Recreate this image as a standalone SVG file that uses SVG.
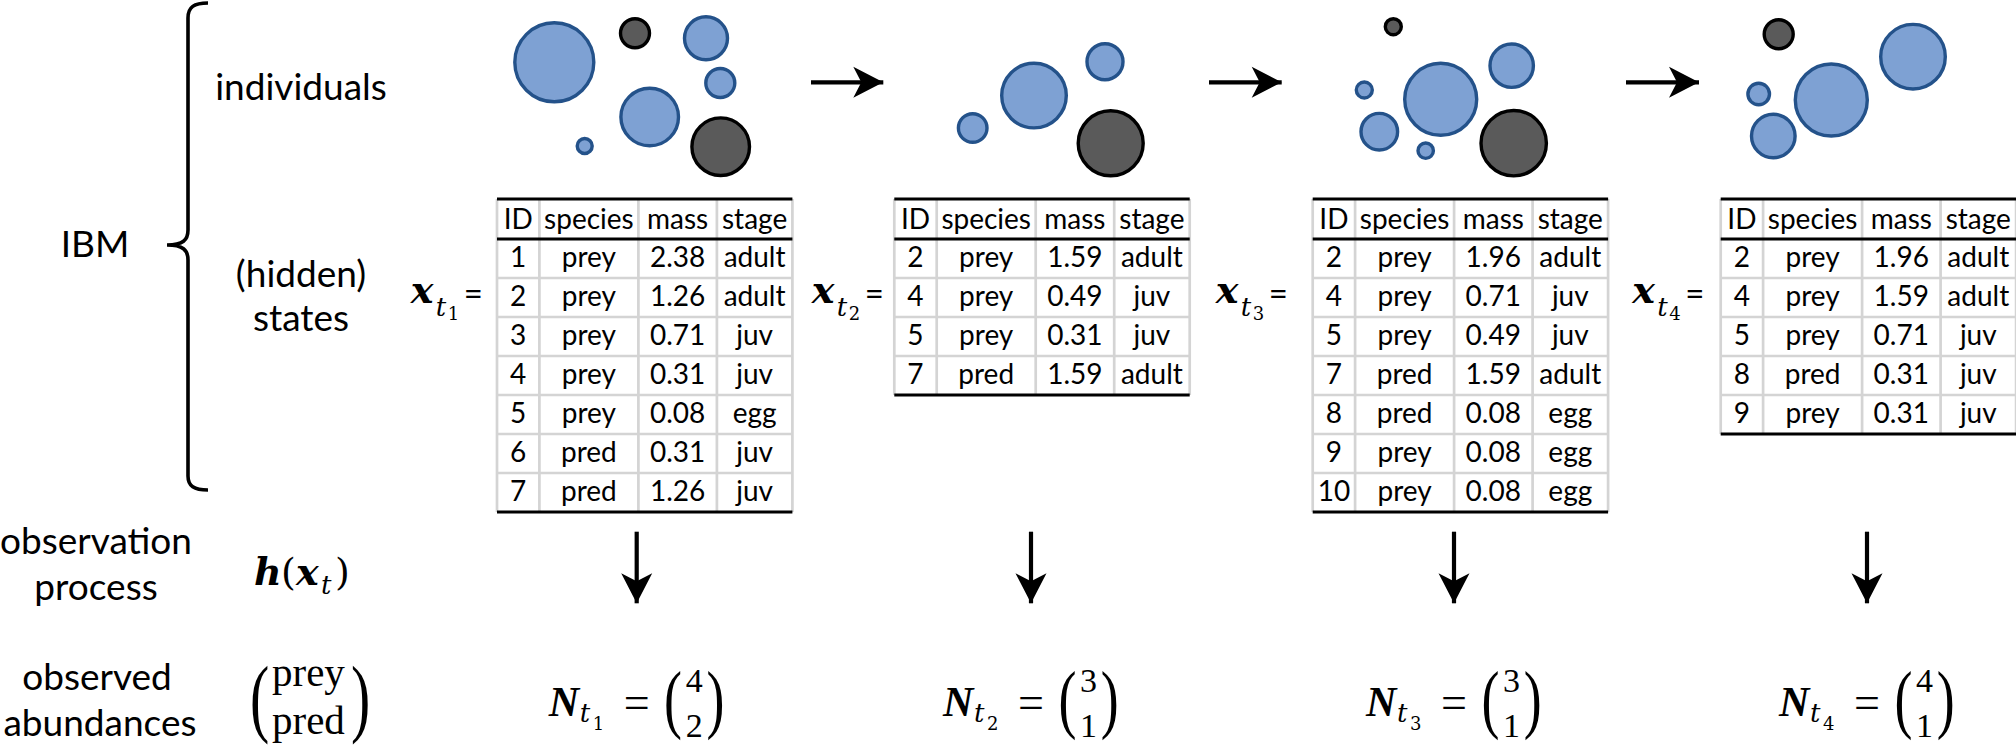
<svg xmlns="http://www.w3.org/2000/svg" width="2016" height="745" viewBox="0 0 2016 745">
<style>
  .lbl{font-family:Lato,"Liberation Sans",sans-serif;font-size:37px;fill:#000;text-anchor:middle}
  .c{font-family:Lato,"Liberation Sans",sans-serif;font-size:28px;fill:#000;text-anchor:middle}
  .g{stroke:#d4d4d4;stroke-width:2.7;fill:none}
  .k{stroke:#000;stroke-width:3.2;fill:none}
  .b{fill:#7ea1d3;stroke:#24528a;stroke-width:3.4}
  .d{fill:#5a5a5a;stroke:#000;stroke-width:3.4}
  .mx{font-family:"DejaVu Serif",serif;font-weight:bold;font-style:italic;font-size:38px;fill:#000}
  .mt{font-family:"DejaVu Serif",serif;font-style:italic;font-size:26px;fill:#000}
  .ms{font-family:"DejaVu Serif",serif;font-size:18px;fill:#000}
  .mp{font-family:"DejaVu Serif",serif;font-size:38px;fill:#000}
  .mn{font-family:"Liberation Serif",serif;font-weight:bold;font-style:italic;font-size:42px;fill:#000}
  .mnt{font-family:"DejaVu Serif",serif;font-style:italic;font-size:26px;fill:#000}
  .mns{font-family:"DejaVu Serif",serif;font-size:18px;fill:#000}
  .mr{font-family:"Liberation Serif",serif;font-size:41px;fill:#000}
  .meq{font-family:"Liberation Serif",serif;font-size:46px;fill:#000;text-anchor:middle}
  .eqs{font-family:Lato,"Liberation Sans",sans-serif;font-size:33px;fill:#000}
  .num{font-family:"Liberation Serif",serif;font-size:34px;fill:#000;text-anchor:middle}
  .par{font-family:"Liberation Serif",serif;font-size:77px;fill:#000}
  .conn{stroke:#000;stroke-width:4.2;fill:none}
</style>
<defs>
  <marker id="ah" markerUnits="userSpaceOnUse" markerWidth="32" markerHeight="34" viewBox="-31 -16 32 32" refX="0" refY="0" orient="auto">
    <path d="M0,0 L-30,-15.5 L-22,0 L-30,15.5 Z" fill="#000"/>
  </marker>
</defs>

<!-- left labels -->
<g id="brace"><path d="M208,3 C194,3 188,7 188,18 L188,230 C188,240 183,245 167,245 C183,245 188,250 188,260 L188,476 C188,486 194,490 208,490" fill="none" stroke="#000" stroke-width="3.6"/></g>
<g id="label-ibm"><text class="lbl" x="95" y="257">IBM</text></g>
<g id="label-individuals"><text class="lbl" x="301" y="100">individuals</text></g>
<g id="label-states"><text class="lbl" x="301" y="287">(hidden)</text><text class="lbl" x="301" y="331">states</text></g>
<g id="label-observation"><text class="lbl" x="96" y="554">observation</text><text class="lbl" x="96" y="600">process</text></g>
<g id="label-observed"><text class="lbl" x="97" y="690">observed</text><text class="lbl" x="100" y="736">abundances</text></g>
<g id="label-h">
  <text class="mx" x="254" y="585">h</text>
  <text class="mp" x="281" y="585">(</text>
  <text class="mx" x="296" y="585">x</text>
  <text class="mt" x="321" y="594">t</text>
  <text class="mp" x="335" y="585">)</text>
</g>
<g id="label-preypred">
  <text class="par" transform="translate(250,726) scale(0.75,1.12)">(</text>
  <text class="mr" x="272" y="686">prey</text>
  <text class="mr" x="272" y="734">pred</text>
  <text class="par" transform="translate(351,726) scale(0.75,1.12)">)</text>
</g>

<!-- individuals -->
<g id="ind1">
  <circle class="b" cx="554.3" cy="62.3" r="39.5"/>
  <circle class="d" cx="635" cy="33.3" r="14.5"/>
  <circle class="b" cx="706" cy="38.3" r="21.5"/>
  <circle class="b" cx="720.3" cy="83" r="14.5"/>
  <circle class="b" cx="649.7" cy="117" r="28.8"/>
  <circle class="b" cx="584.7" cy="146" r="7.5"/>
  <circle class="d" cx="720.7" cy="146.7" r="28.8"/>
</g>
<g id="ind2">
  <circle class="b" cx="972.7" cy="128" r="14.3"/>
  <circle class="b" cx="1034" cy="95.6" r="32.3"/>
  <circle class="b" cx="1105" cy="61.7" r="18"/>
  <circle class="d" cx="1110.7" cy="143.3" r="32.5"/>
</g>
<g id="ind3">
  <circle class="d" cx="1393.3" cy="26.7" r="8"/>
  <circle class="b" cx="1364.3" cy="90" r="8"/>
  <circle class="b" cx="1440.7" cy="99.3" r="36"/>
  <circle class="b" cx="1511.7" cy="65.7" r="21.7"/>
  <circle class="b" cx="1379.3" cy="131.7" r="18.3"/>
  <circle class="b" cx="1425.7" cy="150.7" r="7.7"/>
  <circle class="d" cx="1513.7" cy="143.2" r="32.7"/>
</g>
<g id="ind4">
  <circle class="d" cx="1778.7" cy="34.3" r="14.5"/>
  <circle class="b" cx="1758.7" cy="94" r="10.8"/>
  <circle class="b" cx="1773.3" cy="136" r="21.8"/>
  <circle class="b" cx="1831.3" cy="100" r="36"/>
  <circle class="b" cx="1913" cy="56.7" r="32.3"/>
</g>

<!-- state labels -->
<g id="xt1" transform="translate(410.7,0)">
  <text class="mx" x="0" y="303">x</text><text class="mt" x="25" y="316">t</text><text class="ms" x="37" y="320">1</text><text class="eqs" x="53" y="305">=</text>
</g>
<g id="xt2" transform="translate(811.7,0)">
  <text class="mx" x="0" y="303">x</text><text class="mt" x="25" y="316">t</text><text class="ms" x="37" y="320">2</text><text class="eqs" x="53" y="305">=</text>
</g>
<g id="xt3" transform="translate(1215.7,0)">
  <text class="mx" x="0" y="303">x</text><text class="mt" x="25" y="316">t</text><text class="ms" x="37" y="320">3</text><text class="eqs" x="53" y="305">=</text>
</g>
<g id="xt4" transform="translate(1632.3,0)">
  <text class="mx" x="0" y="303">x</text><text class="mt" x="25" y="316">t</text><text class="ms" x="37" y="320">4</text><text class="eqs" x="53" y="305">=</text>
</g>

<!-- tables -->
<g id="table1" transform="translate(497,199)">
  <path class="g" d="M0,0V313M42.4,0V313M141.4,0V313M219.9,0V313M295.4,0V313M0,79H295.4M0,118H295.4M0,157H295.4M0,196H295.4M0,235H295.4M0,274H295.4"/>
  <path class="k" d="M0,0H295.4M0,40H295.4M0,313H295.4"/>
  <text class="c" x="21.2" y="29.5">ID</text><text class="c" x="91.9" y="29.5">species</text><text class="c" x="180.6" y="29.5">mass</text><text class="c" x="257.6" y="29.5">stage</text>
  <text class="c" x="21.2" y="68">1</text><text class="c" x="91.9" y="68">prey</text><text class="c" x="180.6" y="68">2.38</text><text class="c" x="257.6" y="68">adult</text>
  <text class="c" x="21.2" y="107">2</text><text class="c" x="91.9" y="107">prey</text><text class="c" x="180.6" y="107">1.26</text><text class="c" x="257.6" y="107">adult</text>
  <text class="c" x="21.2" y="146">3</text><text class="c" x="91.9" y="146">prey</text><text class="c" x="180.6" y="146">0.71</text><text class="c" x="257.6" y="146">juv</text>
  <text class="c" x="21.2" y="185">4</text><text class="c" x="91.9" y="185">prey</text><text class="c" x="180.6" y="185">0.31</text><text class="c" x="257.6" y="185">juv</text>
  <text class="c" x="21.2" y="224">5</text><text class="c" x="91.9" y="224">prey</text><text class="c" x="180.6" y="224">0.08</text><text class="c" x="257.6" y="224">egg</text>
  <text class="c" x="21.2" y="263">6</text><text class="c" x="91.9" y="263">pred</text><text class="c" x="180.6" y="263">0.31</text><text class="c" x="257.6" y="263">juv</text>
  <text class="c" x="21.2" y="302">7</text><text class="c" x="91.9" y="302">pred</text><text class="c" x="180.6" y="302">1.26</text><text class="c" x="257.6" y="302">juv</text>
</g>
<g id="table2" transform="translate(894.3,199)">
  <path class="g" d="M0,0V196M42.4,0V196M141.4,0V196M219.9,0V196M295.4,0V196M0,79H295.4M0,118H295.4M0,157H295.4"/>
  <path class="k" d="M0,0H295.4M0,40H295.4M0,196H295.4"/>
  <text class="c" x="21.2" y="29.5">ID</text><text class="c" x="91.9" y="29.5">species</text><text class="c" x="180.6" y="29.5">mass</text><text class="c" x="257.6" y="29.5">stage</text>
  <text class="c" x="21.2" y="68">2</text><text class="c" x="91.9" y="68">prey</text><text class="c" x="180.6" y="68">1.59</text><text class="c" x="257.6" y="68">adult</text>
  <text class="c" x="21.2" y="107">4</text><text class="c" x="91.9" y="107">prey</text><text class="c" x="180.6" y="107">0.49</text><text class="c" x="257.6" y="107">juv</text>
  <text class="c" x="21.2" y="146">5</text><text class="c" x="91.9" y="146">prey</text><text class="c" x="180.6" y="146">0.31</text><text class="c" x="257.6" y="146">juv</text>
  <text class="c" x="21.2" y="185">7</text><text class="c" x="91.9" y="185">pred</text><text class="c" x="180.6" y="185">1.59</text><text class="c" x="257.6" y="185">adult</text>
</g>
<g id="table3" transform="translate(1312.7,199)">
  <path class="g" d="M0,0V313M42.4,0V313M141.4,0V313M219.9,0V313M295.4,0V313M0,79H295.4M0,118H295.4M0,157H295.4M0,196H295.4M0,235H295.4M0,274H295.4"/>
  <path class="k" d="M0,0H295.4M0,40H295.4M0,313H295.4"/>
  <text class="c" x="21.2" y="29.5">ID</text><text class="c" x="91.9" y="29.5">species</text><text class="c" x="180.6" y="29.5">mass</text><text class="c" x="257.6" y="29.5">stage</text>
  <text class="c" x="21.2" y="68">2</text><text class="c" x="91.9" y="68">prey</text><text class="c" x="180.6" y="68">1.96</text><text class="c" x="257.6" y="68">adult</text>
  <text class="c" x="21.2" y="107">4</text><text class="c" x="91.9" y="107">prey</text><text class="c" x="180.6" y="107">0.71</text><text class="c" x="257.6" y="107">juv</text>
  <text class="c" x="21.2" y="146">5</text><text class="c" x="91.9" y="146">prey</text><text class="c" x="180.6" y="146">0.49</text><text class="c" x="257.6" y="146">juv</text>
  <text class="c" x="21.2" y="185">7</text><text class="c" x="91.9" y="185">pred</text><text class="c" x="180.6" y="185">1.59</text><text class="c" x="257.6" y="185">adult</text>
  <text class="c" x="21.2" y="224">8</text><text class="c" x="91.9" y="224">pred</text><text class="c" x="180.6" y="224">0.08</text><text class="c" x="257.6" y="224">egg</text>
  <text class="c" x="21.2" y="263">9</text><text class="c" x="91.9" y="263">prey</text><text class="c" x="180.6" y="263">0.08</text><text class="c" x="257.6" y="263">egg</text>
  <text class="c" x="21.2" y="302">10</text><text class="c" x="91.9" y="302">prey</text><text class="c" x="180.6" y="302">0.08</text><text class="c" x="257.6" y="302">egg</text>
</g>
<g id="table4" transform="translate(1720.7,199)">
  <path class="g" d="M0,0V235M42.4,0V235M141.4,0V235M219.9,0V235M295.4,0V235M0,79H295.4M0,118H295.4M0,157H295.4M0,196H295.4"/>
  <path class="k" d="M0,0H295.4M0,40H295.4M0,235H295.4"/>
  <text class="c" x="21.2" y="29.5">ID</text><text class="c" x="91.9" y="29.5">species</text><text class="c" x="180.6" y="29.5">mass</text><text class="c" x="257.6" y="29.5">stage</text>
  <text class="c" x="21.2" y="68">2</text><text class="c" x="91.9" y="68">prey</text><text class="c" x="180.6" y="68">1.96</text><text class="c" x="257.6" y="68">adult</text>
  <text class="c" x="21.2" y="107">4</text><text class="c" x="91.9" y="107">prey</text><text class="c" x="180.6" y="107">1.59</text><text class="c" x="257.6" y="107">adult</text>
  <text class="c" x="21.2" y="146">5</text><text class="c" x="91.9" y="146">prey</text><text class="c" x="180.6" y="146">0.71</text><text class="c" x="257.6" y="146">juv</text>
  <text class="c" x="21.2" y="185">8</text><text class="c" x="91.9" y="185">pred</text><text class="c" x="180.6" y="185">0.31</text><text class="c" x="257.6" y="185">juv</text>
  <text class="c" x="21.2" y="224">9</text><text class="c" x="91.9" y="224">prey</text><text class="c" x="180.6" y="224">0.31</text><text class="c" x="257.6" y="224">juv</text>
</g>

<!-- observed abundances -->
<g id="N1" transform="translate(636.7,0)">
  <text class="mn" x="-88" y="716">N</text><text class="mnt" x="-57" y="722">t</text><text class="mns" x="-44" y="730">1</text>
  <text class="meq" x="0" y="718">=</text>
  <text class="par" transform="translate(27.4,724) scale(0.7,1)">(</text>
  <text class="num" x="57.6" y="692">4</text><text class="num" x="57.6" y="737">2</text>
  <text class="par" transform="translate(69.7,724) scale(0.7,1)">)</text>
</g>
<g id="N2" transform="translate(1031,0)">
  <text class="mn" x="-88" y="716">N</text><text class="mnt" x="-57" y="722">t</text><text class="mns" x="-44" y="730">2</text>
  <text class="meq" x="0" y="718">=</text>
  <text class="par" transform="translate(27.4,724) scale(0.7,1)">(</text>
  <text class="num" x="57.6" y="692">3</text><text class="num" x="57.6" y="737">1</text>
  <text class="par" transform="translate(69.7,724) scale(0.7,1)">)</text>
</g>
<g id="N3" transform="translate(1454,0)">
  <text class="mn" x="-88" y="716">N</text><text class="mnt" x="-57" y="722">t</text><text class="mns" x="-44" y="730">3</text>
  <text class="meq" x="0" y="718">=</text>
  <text class="par" transform="translate(27.4,724) scale(0.7,1)">(</text>
  <text class="num" x="57.6" y="692">3</text><text class="num" x="57.6" y="737">1</text>
  <text class="par" transform="translate(69.7,724) scale(0.7,1)">)</text>
</g>
<g id="N4" transform="translate(1867,0)">
  <text class="mn" x="-88" y="716">N</text><text class="mnt" x="-57" y="722">t</text><text class="mns" x="-44" y="730">4</text>
  <text class="meq" x="0" y="718">=</text>
  <text class="par" transform="translate(27.4,724) scale(0.7,1)">(</text>
  <text class="num" x="57.6" y="692">4</text><text class="num" x="57.6" y="737">1</text>
  <text class="par" transform="translate(69.7,724) scale(0.7,1)">)</text>
</g>

<!-- connectors -->
<g id="connectors">
  <line class="conn" x1="811" y1="82.3" x2="883.3" y2="82.3" marker-end="url(#ah)"/>
  <line class="conn" x1="1209" y1="82.3" x2="1281.7" y2="82.3" marker-end="url(#ah)"/>
  <line class="conn" x1="1626" y1="82.3" x2="1699" y2="82.3" marker-end="url(#ah)"/>
  <line class="conn" x1="636.7" y1="531.7" x2="636.7" y2="603.3" marker-end="url(#ah)"/>
  <line class="conn" x1="1031" y1="531.7" x2="1031" y2="603.3" marker-end="url(#ah)"/>
  <line class="conn" x1="1454" y1="531.7" x2="1454" y2="603.3" marker-end="url(#ah)"/>
  <line class="conn" x1="1867" y1="531.7" x2="1867" y2="603.3" marker-end="url(#ah)"/>
</g>
</svg>
